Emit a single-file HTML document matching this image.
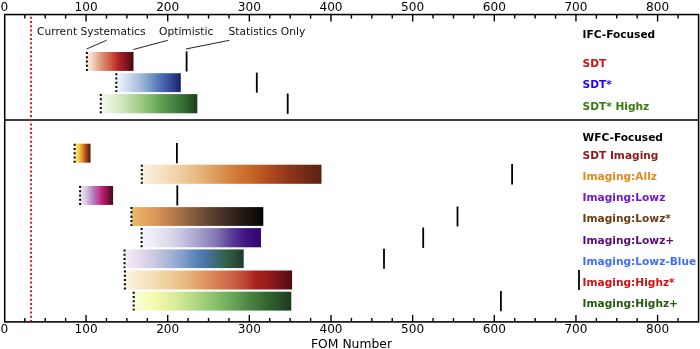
<!DOCTYPE html>
<html lang="en"><head><meta charset="utf-8"><title>FOM Number</title>
<style>html,body{margin:0;padding:0;background:#fff;}body{width:700px;height:349px;overflow:hidden;}svg{display:block;}text{font-family:"DejaVu Sans","Liberation Sans",sans-serif;}</style>
</head><body>
<svg width="700" height="349" viewBox="0 0 700 349">
<defs>
<linearGradient id="gReds" x1="0" y1="0" x2="1" y2="0">
<stop offset="0.000" stop-color="#fbeee4"/>
<stop offset="0.120" stop-color="#f3d5c2"/>
<stop offset="0.250" stop-color="#e5a88c"/>
<stop offset="0.370" stop-color="#d98264"/>
<stop offset="0.500" stop-color="#cf5f45"/>
<stop offset="0.600" stop-color="#c23a30"/>
<stop offset="0.700" stop-color="#a8222a"/>
<stop offset="0.800" stop-color="#8c1a20"/>
<stop offset="0.900" stop-color="#6a1218"/>
<stop offset="1.000" stop-color="#45060c"/>
</linearGradient>
<linearGradient id="gBlues" x1="0" y1="0" x2="1" y2="0">
<stop offset="0.000" stop-color="#f3f6fc"/>
<stop offset="0.120" stop-color="#dde5f3"/>
<stop offset="0.250" stop-color="#c0cfe6"/>
<stop offset="0.370" stop-color="#a3bcdb"/>
<stop offset="0.500" stop-color="#7f9fcb"/>
<stop offset="0.620" stop-color="#5d80bb"/>
<stop offset="0.750" stop-color="#4360a8"/>
<stop offset="0.870" stop-color="#2f4493"/>
<stop offset="1.000" stop-color="#1a1f62"/>
</linearGradient>
<linearGradient id="gGreens" x1="0" y1="0" x2="1" y2="0">
<stop offset="0.000" stop-color="#f5faef"/>
<stop offset="0.120" stop-color="#e2f1d6"/>
<stop offset="0.250" stop-color="#c7e3b2"/>
<stop offset="0.370" stop-color="#a8d28f"/>
<stop offset="0.500" stop-color="#85bb6e"/>
<stop offset="0.620" stop-color="#62a155"/>
<stop offset="0.750" stop-color="#47853f"/>
<stop offset="0.870" stop-color="#336a30"/>
<stop offset="1.000" stop-color="#1c3d1a"/>
</linearGradient>
<linearGradient id="gYlOrBr" x1="0" y1="0" x2="1" y2="0">
<stop offset="0.000" stop-color="#fdf3a8"/>
<stop offset="0.250" stop-color="#f6d055"/>
<stop offset="0.450" stop-color="#e59a2e"/>
<stop offset="0.600" stop-color="#c8671e"/>
<stop offset="0.750" stop-color="#9a4416"/>
<stop offset="0.900" stop-color="#6a2a10"/>
<stop offset="1.000" stop-color="#3d1508"/>
</linearGradient>
<linearGradient id="gOranges" x1="0" y1="0" x2="1" y2="0">
<stop offset="0.000" stop-color="#fbf1e2"/>
<stop offset="0.100" stop-color="#f6e3c8"/>
<stop offset="0.200" stop-color="#f0d0a6"/>
<stop offset="0.300" stop-color="#e9bb82"/>
<stop offset="0.400" stop-color="#dfa060"/>
<stop offset="0.500" stop-color="#d5803c"/>
<stop offset="0.600" stop-color="#c8692a"/>
<stop offset="0.700" stop-color="#b44c1e"/>
<stop offset="0.800" stop-color="#95381a"/>
<stop offset="0.900" stop-color="#772c16"/>
<stop offset="1.000" stop-color="#5a2210"/>
</linearGradient>
<linearGradient id="gPuRd" x1="0" y1="0" x2="1" y2="0">
<stop offset="0.000" stop-color="#f3eef7"/>
<stop offset="0.150" stop-color="#dccfe6"/>
<stop offset="0.300" stop-color="#c0a0cc"/>
<stop offset="0.420" stop-color="#b873b5"/>
<stop offset="0.550" stop-color="#c04a9a"/>
<stop offset="0.650" stop-color="#c0207a"/>
<stop offset="0.750" stop-color="#a81850"/>
<stop offset="0.850" stop-color="#7a123f"/>
<stop offset="1.000" stop-color="#450a28"/>
</linearGradient>
<linearGradient id="gcopper_r" x1="0" y1="0" x2="1" y2="0">
<stop offset="0.000" stop-color="#e9bc6a"/>
<stop offset="0.100" stop-color="#e2a560"/>
<stop offset="0.200" stop-color="#da9258"/>
<stop offset="0.300" stop-color="#bb7d4e"/>
<stop offset="0.400" stop-color="#9a6a44"/>
<stop offset="0.500" stop-color="#7a553a"/>
<stop offset="0.600" stop-color="#5e4230"/>
<stop offset="0.700" stop-color="#453124"/>
<stop offset="0.800" stop-color="#2c2018"/>
<stop offset="0.900" stop-color="#18120e"/>
<stop offset="1.000" stop-color="#060504"/>
</linearGradient>
<linearGradient id="gPurples" x1="0" y1="0" x2="1" y2="0">
<stop offset="0.000" stop-color="#f8f6fb"/>
<stop offset="0.120" stop-color="#ebe8f3"/>
<stop offset="0.250" stop-color="#d8d6ea"/>
<stop offset="0.370" stop-color="#bfbddc"/>
<stop offset="0.500" stop-color="#a09bc8"/>
<stop offset="0.620" stop-color="#8378b4"/>
<stop offset="0.750" stop-color="#5c3e99"/>
<stop offset="0.850" stop-color="#431a86"/>
<stop offset="0.930" stop-color="#380a7a"/>
<stop offset="1.000" stop-color="#340670"/>
</linearGradient>
<linearGradient id="gPuBuGn" x1="0" y1="0" x2="1" y2="0">
<stop offset="0.000" stop-color="#f6eef6"/>
<stop offset="0.120" stop-color="#e6dcec"/>
<stop offset="0.250" stop-color="#cdc9e2"/>
<stop offset="0.370" stop-color="#a9b5d6"/>
<stop offset="0.500" stop-color="#7f9cc8"/>
<stop offset="0.600" stop-color="#5a82b8"/>
<stop offset="0.680" stop-color="#4a74a8"/>
<stop offset="0.750" stop-color="#3f6c80"/>
<stop offset="0.850" stop-color="#33604a"/>
<stop offset="0.930" stop-color="#284e38"/>
<stop offset="1.000" stop-color="#1e3a2a"/>
</linearGradient>
<linearGradient id="gOrRd" x1="0" y1="0" x2="1" y2="0">
<stop offset="0.000" stop-color="#fbf3e0"/>
<stop offset="0.120" stop-color="#f6e6c4"/>
<stop offset="0.250" stop-color="#efd09c"/>
<stop offset="0.370" stop-color="#e8b880"/>
<stop offset="0.500" stop-color="#dc8e5c"/>
<stop offset="0.620" stop-color="#cc6a4a"/>
<stop offset="0.720" stop-color="#bb4535"/>
<stop offset="0.780" stop-color="#a8231f"/>
<stop offset="0.860" stop-color="#951a1b"/>
<stop offset="0.930" stop-color="#741418"/>
<stop offset="1.000" stop-color="#500c10"/>
</linearGradient>
<linearGradient id="gYlGn" x1="0" y1="0" x2="1" y2="0">
<stop offset="0.000" stop-color="#fcfed8"/>
<stop offset="0.120" stop-color="#f6fbb0"/>
<stop offset="0.250" stop-color="#dcee9c"/>
<stop offset="0.370" stop-color="#b9dc88"/>
<stop offset="0.500" stop-color="#8fc470"/>
<stop offset="0.620" stop-color="#6aa85a"/>
<stop offset="0.750" stop-color="#487f40"/>
<stop offset="0.850" stop-color="#33642f"/>
<stop offset="0.930" stop-color="#284e28"/>
<stop offset="1.000" stop-color="#1b3a20"/>
</linearGradient>
</defs>
<rect x="0" y="0" width="700" height="349" fill="#ffffff"/>
<rect x="86.90" y="52.00" width="46.60" height="18.90" fill="url(#gReds)"/>
<line x1="86.90" y1="52.00" x2="86.90" y2="70.90" stroke="#000" stroke-width="2" stroke-dasharray="2 2.27"/>
<line x1="186.60" y1="51.40" x2="186.60" y2="71.50" stroke="#000" stroke-width="1.8"/>
<rect x="116.30" y="73.20" width="64.50" height="18.90" fill="url(#gBlues)"/>
<line x1="116.30" y1="73.20" x2="116.30" y2="92.10" stroke="#000" stroke-width="2" stroke-dasharray="2 2.27"/>
<line x1="256.80" y1="72.60" x2="256.80" y2="92.70" stroke="#000" stroke-width="1.8"/>
<rect x="100.80" y="94.10" width="96.50" height="19.20" fill="url(#gGreens)"/>
<line x1="100.80" y1="94.10" x2="100.80" y2="113.30" stroke="#000" stroke-width="2" stroke-dasharray="2 2.27"/>
<line x1="287.70" y1="93.50" x2="287.70" y2="113.90" stroke="#000" stroke-width="1.8"/>
<rect x="74.60" y="143.70" width="15.90" height="19.00" fill="url(#gYlOrBr)"/>
<line x1="74.60" y1="143.70" x2="74.60" y2="162.70" stroke="#000" stroke-width="2" stroke-dasharray="2 2.27"/>
<line x1="176.90" y1="143.10" x2="176.90" y2="163.30" stroke="#000" stroke-width="1.8"/>
<rect x="141.80" y="164.70" width="179.70" height="19.10" fill="url(#gOranges)"/>
<line x1="141.80" y1="164.70" x2="141.80" y2="183.80" stroke="#000" stroke-width="2" stroke-dasharray="2 2.27"/>
<line x1="512.10" y1="164.10" x2="512.10" y2="184.40" stroke="#000" stroke-width="1.8"/>
<rect x="80.10" y="186.00" width="33.00" height="18.90" fill="url(#gPuRd)"/>
<line x1="80.10" y1="186.00" x2="80.10" y2="204.90" stroke="#000" stroke-width="2" stroke-dasharray="2 2.27"/>
<line x1="177.30" y1="185.40" x2="177.30" y2="205.50" stroke="#000" stroke-width="1.8"/>
<rect x="131.40" y="207.10" width="131.90" height="18.80" fill="url(#gcopper_r)"/>
<line x1="131.40" y1="207.10" x2="131.40" y2="225.90" stroke="#000" stroke-width="2" stroke-dasharray="2 2.27"/>
<line x1="457.50" y1="206.50" x2="457.50" y2="226.50" stroke="#000" stroke-width="1.8"/>
<rect x="141.60" y="228.10" width="119.40" height="19.20" fill="url(#gPurples)"/>
<line x1="141.60" y1="228.10" x2="141.60" y2="247.30" stroke="#000" stroke-width="2" stroke-dasharray="2 2.27"/>
<line x1="423.20" y1="227.50" x2="423.20" y2="247.90" stroke="#000" stroke-width="1.8"/>
<rect x="124.50" y="249.40" width="119.20" height="18.70" fill="url(#gPuBuGn)"/>
<line x1="124.50" y1="249.40" x2="124.50" y2="268.10" stroke="#000" stroke-width="2" stroke-dasharray="2 2.27"/>
<line x1="384.00" y1="248.80" x2="384.00" y2="268.70" stroke="#000" stroke-width="1.8"/>
<rect x="124.90" y="270.50" width="167.20" height="19.00" fill="url(#gOrRd)"/>
<line x1="124.90" y1="270.50" x2="124.90" y2="289.50" stroke="#000" stroke-width="2" stroke-dasharray="2 2.27"/>
<line x1="579.00" y1="269.90" x2="579.00" y2="290.10" stroke="#000" stroke-width="1.8"/>
<rect x="133.70" y="291.70" width="157.60" height="18.90" fill="url(#gYlGn)"/>
<line x1="133.70" y1="291.70" x2="133.70" y2="310.60" stroke="#000" stroke-width="2" stroke-dasharray="2 2.27"/>
<line x1="500.90" y1="291.10" x2="500.90" y2="311.20" stroke="#000" stroke-width="1.8"/>
<line x1="86.5" y1="49.0" x2="106.6" y2="40.3" stroke="#262626" stroke-width="1"/>
<line x1="133.3" y1="49.5" x2="167.8" y2="40.3" stroke="#262626" stroke-width="1"/>
<line x1="185.9" y1="49.0" x2="229.3" y2="40.3" stroke="#262626" stroke-width="1"/>
<line x1="24.81" y1="14.55" x2="24.81" y2="18.55" stroke="#000" stroke-width="1.4"/>
<line x1="24.81" y1="321.90" x2="24.81" y2="317.90" stroke="#000" stroke-width="1.4"/>
<line x1="45.23" y1="14.55" x2="45.23" y2="18.55" stroke="#000" stroke-width="1.4"/>
<line x1="45.23" y1="321.90" x2="45.23" y2="317.90" stroke="#000" stroke-width="1.4"/>
<line x1="65.64" y1="14.55" x2="65.64" y2="18.55" stroke="#000" stroke-width="1.4"/>
<line x1="65.64" y1="321.90" x2="65.64" y2="317.90" stroke="#000" stroke-width="1.4"/>
<line x1="86.05" y1="14.55" x2="86.05" y2="21.55" stroke="#000" stroke-width="1.4"/>
<line x1="86.05" y1="321.90" x2="86.05" y2="314.90" stroke="#000" stroke-width="1.4"/>
<line x1="106.46" y1="14.55" x2="106.46" y2="18.55" stroke="#000" stroke-width="1.4"/>
<line x1="106.46" y1="321.90" x2="106.46" y2="317.90" stroke="#000" stroke-width="1.4"/>
<line x1="126.88" y1="14.55" x2="126.88" y2="18.55" stroke="#000" stroke-width="1.4"/>
<line x1="126.88" y1="321.90" x2="126.88" y2="317.90" stroke="#000" stroke-width="1.4"/>
<line x1="147.29" y1="14.55" x2="147.29" y2="18.55" stroke="#000" stroke-width="1.4"/>
<line x1="147.29" y1="321.90" x2="147.29" y2="317.90" stroke="#000" stroke-width="1.4"/>
<line x1="167.70" y1="14.55" x2="167.70" y2="21.55" stroke="#000" stroke-width="1.4"/>
<line x1="167.70" y1="321.90" x2="167.70" y2="314.90" stroke="#000" stroke-width="1.4"/>
<line x1="188.11" y1="14.55" x2="188.11" y2="18.55" stroke="#000" stroke-width="1.4"/>
<line x1="188.11" y1="321.90" x2="188.11" y2="317.90" stroke="#000" stroke-width="1.4"/>
<line x1="208.53" y1="14.55" x2="208.53" y2="18.55" stroke="#000" stroke-width="1.4"/>
<line x1="208.53" y1="321.90" x2="208.53" y2="317.90" stroke="#000" stroke-width="1.4"/>
<line x1="228.94" y1="14.55" x2="228.94" y2="18.55" stroke="#000" stroke-width="1.4"/>
<line x1="228.94" y1="321.90" x2="228.94" y2="317.90" stroke="#000" stroke-width="1.4"/>
<line x1="249.35" y1="14.55" x2="249.35" y2="21.55" stroke="#000" stroke-width="1.4"/>
<line x1="249.35" y1="321.90" x2="249.35" y2="314.90" stroke="#000" stroke-width="1.4"/>
<line x1="269.76" y1="14.55" x2="269.76" y2="18.55" stroke="#000" stroke-width="1.4"/>
<line x1="269.76" y1="321.90" x2="269.76" y2="317.90" stroke="#000" stroke-width="1.4"/>
<line x1="290.17" y1="14.55" x2="290.17" y2="18.55" stroke="#000" stroke-width="1.4"/>
<line x1="290.17" y1="321.90" x2="290.17" y2="317.90" stroke="#000" stroke-width="1.4"/>
<line x1="310.59" y1="14.55" x2="310.59" y2="18.55" stroke="#000" stroke-width="1.4"/>
<line x1="310.59" y1="321.90" x2="310.59" y2="317.90" stroke="#000" stroke-width="1.4"/>
<line x1="331.00" y1="14.55" x2="331.00" y2="21.55" stroke="#000" stroke-width="1.4"/>
<line x1="331.00" y1="321.90" x2="331.00" y2="314.90" stroke="#000" stroke-width="1.4"/>
<line x1="351.41" y1="14.55" x2="351.41" y2="18.55" stroke="#000" stroke-width="1.4"/>
<line x1="351.41" y1="321.90" x2="351.41" y2="317.90" stroke="#000" stroke-width="1.4"/>
<line x1="371.82" y1="14.55" x2="371.82" y2="18.55" stroke="#000" stroke-width="1.4"/>
<line x1="371.82" y1="321.90" x2="371.82" y2="317.90" stroke="#000" stroke-width="1.4"/>
<line x1="392.24" y1="14.55" x2="392.24" y2="18.55" stroke="#000" stroke-width="1.4"/>
<line x1="392.24" y1="321.90" x2="392.24" y2="317.90" stroke="#000" stroke-width="1.4"/>
<line x1="412.65" y1="14.55" x2="412.65" y2="21.55" stroke="#000" stroke-width="1.4"/>
<line x1="412.65" y1="321.90" x2="412.65" y2="314.90" stroke="#000" stroke-width="1.4"/>
<line x1="433.06" y1="14.55" x2="433.06" y2="18.55" stroke="#000" stroke-width="1.4"/>
<line x1="433.06" y1="321.90" x2="433.06" y2="317.90" stroke="#000" stroke-width="1.4"/>
<line x1="453.47" y1="14.55" x2="453.47" y2="18.55" stroke="#000" stroke-width="1.4"/>
<line x1="453.47" y1="321.90" x2="453.47" y2="317.90" stroke="#000" stroke-width="1.4"/>
<line x1="473.89" y1="14.55" x2="473.89" y2="18.55" stroke="#000" stroke-width="1.4"/>
<line x1="473.89" y1="321.90" x2="473.89" y2="317.90" stroke="#000" stroke-width="1.4"/>
<line x1="494.30" y1="14.55" x2="494.30" y2="21.55" stroke="#000" stroke-width="1.4"/>
<line x1="494.30" y1="321.90" x2="494.30" y2="314.90" stroke="#000" stroke-width="1.4"/>
<line x1="514.71" y1="14.55" x2="514.71" y2="18.55" stroke="#000" stroke-width="1.4"/>
<line x1="514.71" y1="321.90" x2="514.71" y2="317.90" stroke="#000" stroke-width="1.4"/>
<line x1="535.12" y1="14.55" x2="535.12" y2="18.55" stroke="#000" stroke-width="1.4"/>
<line x1="535.12" y1="321.90" x2="535.12" y2="317.90" stroke="#000" stroke-width="1.4"/>
<line x1="555.54" y1="14.55" x2="555.54" y2="18.55" stroke="#000" stroke-width="1.4"/>
<line x1="555.54" y1="321.90" x2="555.54" y2="317.90" stroke="#000" stroke-width="1.4"/>
<line x1="575.95" y1="14.55" x2="575.95" y2="21.55" stroke="#000" stroke-width="1.4"/>
<line x1="575.95" y1="321.90" x2="575.95" y2="314.90" stroke="#000" stroke-width="1.4"/>
<line x1="596.36" y1="14.55" x2="596.36" y2="18.55" stroke="#000" stroke-width="1.4"/>
<line x1="596.36" y1="321.90" x2="596.36" y2="317.90" stroke="#000" stroke-width="1.4"/>
<line x1="616.77" y1="14.55" x2="616.77" y2="18.55" stroke="#000" stroke-width="1.4"/>
<line x1="616.77" y1="321.90" x2="616.77" y2="317.90" stroke="#000" stroke-width="1.4"/>
<line x1="637.19" y1="14.55" x2="637.19" y2="18.55" stroke="#000" stroke-width="1.4"/>
<line x1="637.19" y1="321.90" x2="637.19" y2="317.90" stroke="#000" stroke-width="1.4"/>
<line x1="657.60" y1="14.55" x2="657.60" y2="21.55" stroke="#000" stroke-width="1.4"/>
<line x1="657.60" y1="321.90" x2="657.60" y2="314.90" stroke="#000" stroke-width="1.4"/>
<line x1="678.01" y1="14.55" x2="678.01" y2="18.55" stroke="#000" stroke-width="1.4"/>
<line x1="678.01" y1="321.90" x2="678.01" y2="317.90" stroke="#000" stroke-width="1.4"/>
<rect x="4.70" y="14.55" width="693.90" height="307.35" fill="none" stroke="#000" stroke-width="1.55"/>
<line x1="4.70" y1="120.05" x2="698.60" y2="120.05" stroke="#000" stroke-width="1.55"/>
<line x1="31.05" y1="16.74" x2="31.05" y2="321.20" stroke="#d2141e" stroke-width="1.9" stroke-dasharray="2 2.272"/>
<text x="4.40" y="10.5" font-size="12.1" text-anchor="middle" fill="#000">0</text>
<text x="4.40" y="333.3" font-size="12.1" text-anchor="middle" fill="#000">0</text>
<text x="86.05" y="10.5" font-size="12.1" text-anchor="middle" fill="#000">100</text>
<text x="86.05" y="333.3" font-size="12.1" text-anchor="middle" fill="#000">100</text>
<text x="167.70" y="10.5" font-size="12.1" text-anchor="middle" fill="#000">200</text>
<text x="167.70" y="333.3" font-size="12.1" text-anchor="middle" fill="#000">200</text>
<text x="249.35" y="10.5" font-size="12.1" text-anchor="middle" fill="#000">300</text>
<text x="249.35" y="333.3" font-size="12.1" text-anchor="middle" fill="#000">300</text>
<text x="331.00" y="10.5" font-size="12.1" text-anchor="middle" fill="#000">400</text>
<text x="331.00" y="333.3" font-size="12.1" text-anchor="middle" fill="#000">400</text>
<text x="412.65" y="10.5" font-size="12.1" text-anchor="middle" fill="#000">500</text>
<text x="412.65" y="333.3" font-size="12.1" text-anchor="middle" fill="#000">500</text>
<text x="494.30" y="10.5" font-size="12.1" text-anchor="middle" fill="#000">600</text>
<text x="494.30" y="333.3" font-size="12.1" text-anchor="middle" fill="#000">600</text>
<text x="575.95" y="10.5" font-size="12.1" text-anchor="middle" fill="#000">700</text>
<text x="575.95" y="333.3" font-size="12.1" text-anchor="middle" fill="#000">700</text>
<text x="657.60" y="10.5" font-size="12.1" text-anchor="middle" fill="#000">800</text>
<text x="657.60" y="333.3" font-size="12.1" text-anchor="middle" fill="#000">800</text>
<text x="351.5" y="347.6" font-size="12.35" text-anchor="middle" fill="#000">FOM Number</text>
<text x="37" y="35.25" font-size="10.7" fill="#111">Current Systematics</text>
<text x="159" y="35.25" font-size="10.7" fill="#111">Optimistic</text>
<text x="228.5" y="35.25" font-size="10.7" fill="#111">Statistics Only</text>
<text x="582.5" y="38.2" font-size="10.62" font-weight="bold" fill="#000">IFC-Focused</text>
<text x="582.5" y="141.4" font-size="10.62" font-weight="bold" fill="#000">WFC-Focused</text>
<text x="582.5" y="67.2" font-size="10.62" font-weight="bold" fill="#cc1111">SDT</text>
<text x="582.5" y="88.3" font-size="10.62" font-weight="bold" fill="#2200ff">SDT*</text>
<text x="582.5" y="109.8" font-size="10.62" font-weight="bold" fill="#3a7a10">SDT* Highz</text>
<text x="582.5" y="159.0" font-size="10.62" font-weight="bold" fill="#8b1a1a">SDT Imaging</text>
<text x="582.5" y="180.2" font-size="10.62" font-weight="bold" fill="#e08a1e">Imaging:Allz</text>
<text x="582.5" y="201.1" font-size="10.62" font-weight="bold" fill="#7219cc">Imaging:Lowz</text>
<text x="582.5" y="222.2" font-size="10.62" font-weight="bold" fill="#6b3d14">Imaging:Lowz*</text>
<text x="582.5" y="243.5" font-size="10.62" font-weight="bold" fill="#5a0a78">Imaging:Lowz+</text>
<text x="582.5" y="264.7" font-size="10.62" font-weight="bold" fill="#3f6ff5">Imaging:Lowz-Blue</text>
<text x="582.5" y="285.6" font-size="10.62" font-weight="bold" fill="#cc1111">Imaging:Highz*</text>
<text x="582.5" y="306.7" font-size="10.62" font-weight="bold" fill="#235a0e">Imaging:Highz+</text>
</svg>
</body></html>
